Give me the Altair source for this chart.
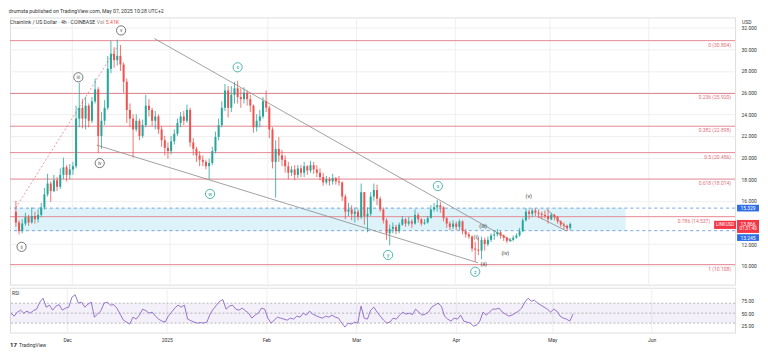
import altair as alt
import pandas as pd

# ---------------- daily OHLC ----------------
first_open = 15.0
close_nov = [14.0, 13.2, 13.9, 14.5, 14.0, 14.6, 14.3, 14.7, 15.4, 16.6, 17.6, 16.9, 17.9, 17.3, 18.4, 19.1, 18.4, 18.9]
high_nov = [16.0, 14.2, 14.3, 14.9, 14.7, 15.4, 15.0, 15.2, 15.8, 17.2, 18.5, 17.8, 18.4, 18.2, 19.0, 20.0, 19.3, 19.4]
low_nov = [13.6, 12.9, 13.0, 13.7, 13.7, 13.9, 13.9, 14.0, 14.5, 15.2, 16.4, 15.9, 16.8, 16.9, 17.1, 18.0, 17.8, 18.0]

close_dec = [19.2, 23.6, 24.6, 23.6, 24.8, 23.4, 25.2, 26.3, 22.0, 23.4, 24.6, 28.2, 29.6, 29.0, 29.4, 28.6, 27.0, 24.4,
             23.6, 22.6, 23.4, 22.0, 23.0, 24.8, 24.4, 23.4, 23.8, 22.6, 21.6, 20.9, 20.6]
high_dec = [19.6, 24.8, 26.9, 25.4, 25.6, 25.0, 25.6, 27.3, 26.5, 24.2, 25.3, 29.4, 30.8, 30.2, 30.9, 30.4, 28.8, 27.3,
            25.0, 24.0, 24.0, 23.6, 23.5, 25.8, 25.4, 24.6, 24.3, 24.0, 22.9, 22.0, 21.4]
low_dec = [18.4, 19.0, 22.8, 22.7, 22.6, 22.8, 23.2, 25.0, 20.4, 20.8, 23.0, 24.4, 27.8, 28.3, 28.5, 28.0, 26.0, 23.2,
           22.8, 20.0, 22.4, 21.6, 21.8, 22.8, 23.8, 22.9, 22.6, 22.2, 21.0, 20.2, 19.9]

close_jan = [21.5, 22.2, 23.2, 23.8, 23.4, 24.4, 21.4, 20.8, 20.2, 19.8, 19.6, 19.2, 19.5, 20.6, 21.9, 23.0, 24.6, 26.2,
             24.6, 25.8, 26.4, 25.6, 25.4, 26.0, 25.4, 24.8, 22.8, 23.4, 23.8, 25.2, 24.6]
high_jan = [22.0, 22.6, 23.6, 24.2, 24.3, 24.9, 24.6, 21.8, 21.0, 20.6, 20.2, 19.8, 19.9, 21.0, 22.4, 23.6, 25.2, 26.8,
            26.6, 26.6, 27.0, 27.1, 26.4, 26.5, 26.2, 25.8, 24.9, 24.0, 24.4, 25.6, 26.2]
low_jan = [20.3, 21.2, 22.0, 22.8, 23.0, 23.2, 21.0, 20.2, 19.6, 19.2, 19.2, 18.9, 18.0, 19.3, 20.4, 21.6, 22.8, 24.3,
           23.7, 24.2, 25.0, 25.0, 24.6, 25.0, 24.8, 24.2, 22.3, 22.4, 22.8, 23.6, 24.2]

close_feb = [22.6, 19.6, 20.8, 20.2, 19.8, 19.2, 18.6, 18.9, 18.4, 19.0, 18.6, 19.2, 18.8, 19.3, 18.9, 18.6, 18.2, 17.7,
             18.0, 17.8, 18.1, 17.8, 17.7, 16.4, 15.0, 15.2, 14.8, 15.0]
high_feb = [24.8, 22.8, 21.6, 21.9, 20.7, 20.2, 19.6, 19.2, 19.3, 19.3, 19.3, 19.6, 19.3, 19.7, 19.6, 19.3, 19.0, 18.6,
            18.3, 18.2, 18.5, 18.2, 18.3, 17.8, 16.6, 15.8, 15.6, 15.4]
low_feb = [21.8, 19.0, 16.3, 19.6, 19.2, 18.6, 18.0, 18.3, 17.9, 18.1, 18.2, 18.2, 18.4, 18.6, 18.5, 18.2, 17.9, 17.4,
           17.5, 17.4, 17.5, 17.5, 17.4, 16.0, 14.3, 14.6, 14.2, 14.0]

close_mar = [14.5, 16.8, 14.6, 14.8, 16.4, 17.0, 16.2, 15.2, 14.2, 13.0, 13.4, 13.6, 13.2, 13.8, 14.3, 13.9, 14.1, 13.9,
             14.7, 14.3, 13.9, 14.0, 14.4, 15.2, 15.4, 15.6, 15.4, 14.4, 13.9, 13.6, 13.9]
high_mar = [15.2, 17.6, 16.8, 15.4, 16.8, 17.6, 17.5, 16.4, 15.4, 14.4, 13.8, 14.0, 13.8, 14.0, 14.6, 14.4, 14.5, 14.3,
            15.2, 14.9, 14.4, 14.3, 14.6, 15.6, 15.8, 16.1, 15.9, 15.5, 14.5, 14.1, 14.2]
low_mar = [14.2, 14.3, 13.8, 13.1, 14.6, 16.0, 15.6, 15.0, 13.9, 12.4, 11.9, 13.0, 12.9, 13.0, 13.7, 13.6, 13.7, 13.5,
           13.8, 14.0, 13.7, 13.8, 13.9, 14.4, 15.0, 15.0, 14.9, 14.1, 13.5, 13.3, 13.4]

close_apr = [13.6, 14.1, 13.2, 12.9, 12.7, 11.6, 11.5, 11.4, 12.4, 12.0, 12.4, 12.8, 12.9, 13.1, 12.8, 12.6, 12.3, 12.4,
             12.6, 12.8, 13.2, 14.2, 15.0, 14.8, 15.1, 14.9, 14.8, 14.7, 14.6, 14.3]
high_apr = [14.1, 14.3, 14.2, 13.4, 13.1, 12.8, 12.2, 12.6, 12.7, 12.6, 12.7, 13.0, 13.3, 13.4, 13.2, 12.9, 12.7, 12.6,
            12.8, 13.0, 13.5, 14.4, 15.3, 15.2, 15.3, 15.3, 15.2, 15.0, 15.1, 15.2]
low_apr = [13.3, 13.3, 12.9, 12.6, 12.5, 11.3, 10.4, 11.0, 10.6, 11.4, 11.8, 12.2, 12.4, 12.7, 12.5, 12.3, 12.1, 12.2,
           12.3, 12.5, 12.7, 13.1, 14.1, 14.3, 14.5, 14.6, 14.4, 14.3, 14.4, 13.9]

close_may = [14.7, 14.5, 14.1, 13.8, 13.7, 13.5, 13.866]
high_may = [14.9, 14.8, 14.6, 14.2, 14.0, 13.8, 14.0]
low_may = [14.2, 14.2, 13.9, 13.6, 13.4, 13.2, 13.3]

# ---------------- RSI (daily readings) ----------------
rsi_nov = [50, 44, 52, 56, 50, 54, 50, 55, 58, 72, 80, 62, 66, 56, 64, 67, 56, 60]
rsi_dec = [62, 82, 87, 70, 72, 62, 68, 72, 42, 48, 55, 70, 72, 66, 67, 60, 48, 36, 32, 28,
           42, 38, 46, 58, 55, 50, 52, 44, 38, 34, 32]
rsi_jan = [44, 52, 60, 66, 62, 66, 38, 35, 32, 30, 31, 30, 32, 48, 58, 66, 74, 77, 58, 64,
           66, 58, 56, 60, 55, 50, 40, 46, 50, 60, 58]
rsi_feb = [40, 30, 36, 42, 40, 38, 36, 40, 38, 44, 42, 50, 46, 54, 48, 45, 42, 40, 44, 42,
           46, 42, 40, 30, 22, 30, 28, 32]
rsi_mar = [30, 64, 40, 38, 56, 62, 52, 44, 36, 30, 32, 40, 38, 46, 52, 48, 50, 47, 58, 52,
           46, 48, 52, 62, 66, 70, 64, 44, 38, 34, 40]
rsi_apr = [38, 46, 34, 32, 30, 24, 26, 34, 52, 46, 52, 58, 58, 60, 52, 48, 44, 46, 50, 54,
           60, 72, 80, 74, 76, 70, 66, 62, 58, 52]
rsi_may = [58, 54, 44, 40, 38, 34, 48]

# ---------------- drawing objects ----------------
fib_ratios = ["0", "0.236", "0.382", "0.5", "0.618", "0.786", "1"]
fib_prices = [30.804, 25.920, 22.898, 20.456, 18.014, 14.537, 10.108]
zone_top = 15.329
zone_bottom = 13.245
zone_start = "2024-11-13T00:00:00Z"
zone_end = "2025-05-25T00:00:00Z"
last_price = 13.866
countdown = "01:31:40"

trend_t1 = ["2024-12-27T05:00:00Z", "2024-12-09T00:00:00Z", "2025-04-27T12:00:00Z", "2025-04-30T00:00:00Z"]
trend_p1 = [31.0, 21.15, 14.52, 15.25]
trend_t2 = ["2025-04-19T05:00:00Z", "2025-04-08T10:00:00Z", "2025-05-06T05:00:00Z", "2025-05-06T19:00:00Z"]
trend_p2 = [12.27, 10.28, 13.23, 13.41]
dash_t = ["2024-11-13T10:00:00Z", "2024-12-15T19:00:00Z"]
dash_p = [15.35, 30.37]

circ_labels = ["ii", "iii", "iv", "v", "w", "x", "y", "x", "z"]
circ_kind = ["gray", "gray", "gray", "gray", "green", "green", "green", "green", "green"]
circ_t = ["2024-11-15T07:00:00Z", "2024-12-03T05:00:00Z", "2024-12-09T23:00:00Z", "2024-12-16T17:00:00Z",
          "2025-01-13T19:00:00Z", "2025-01-22T12:00:00Z", "2025-03-11T00:00:00Z", "2025-03-26T17:00:00Z",
          "2025-04-07T12:00:00Z"]
circ_p = [11.75, 27.42, 19.49, 31.75, 16.64, 28.34, 11.0, 17.37, 9.45]

plain_labels = ["(i)", "(iii)", "(ii)", "(iv)", "(v)"]
plain_t = ["2025-04-07T19:00:00Z", "2025-04-10T00:00:00Z", "2025-04-10T05:00:00Z", "2025-04-17T00:00:00Z",
           "2025-04-24T10:00:00Z"]
plain_p = [12.67, 13.69, 10.18, 11.2, 16.45]

price_ticks = [10, 12, 16, 18, 20, 22, 24, 26, 28, 30, 32]
rsi_ticks = [25, 50, 75]

# ---------------- tables ----------------
closes = close_nov + close_dec + close_jan + close_feb + close_mar + close_apr + close_may
highs = high_nov + high_dec + high_jan + high_feb + high_mar + high_apr + high_may
lows = low_nov + low_dec + low_jan + low_feb + low_mar + low_apr + low_may
rsi_vals = rsi_nov + rsi_dec + rsi_jan + rsi_feb + rsi_mar + rsi_apr + rsi_may
days = pd.date_range("2024-11-13", periods=len(closes), freq="D")
tstr = [d.strftime("%Y-%m-%dT12:00:00Z") for d in days]
opens = [first_open] + closes[:-1]
candles = pd.DataFrame({"t": tstr, "open": opens, "high": highs, "low": lows, "close": closes})
rsi_df = pd.DataFrame({"t": tstr, "rsi": rsi_vals})

FONT = "Roboto"
GREEN = "#26a69a"
RED = "#ef5350"
TAGRED = "#f23645"
BLUE = "#2f6de8"
FIBC = "#e58a95"
W, HP, HR = 727, 268, 45

# fib label x: right edge, except where the LINKUSD tag would cover it
fib_df = pd.DataFrame({
    "p": fib_prices,
    "label": [f"{r} ({p:.3f})" for r, p in zip(fib_ratios, fib_prices)],
    "lx": [W - 25 if abs(p - last_price) < 1.0 else W - 4 for p in fib_prices],
})
zone_df = pd.DataFrame({"x1": [zone_start], "x2": [zone_end], "lo": [zone_bottom], "hi": [zone_top]})
zone_lines_df = pd.DataFrame({"p": [zone_top, zone_bottom]})
trend_df = pd.DataFrame({"x1": trend_t1, "x2": trend_t2, "y1": trend_p1, "y2": trend_p2})
dash_df = pd.DataFrame({"x1": [dash_t[0]], "x2": [dash_t[1]], "y1": [dash_p[0]], "y2": [dash_p[1]]})
circ_df = pd.DataFrame({"t": circ_t, "p": circ_p, "label": circ_labels, "kind": circ_kind})
plain_df = pd.DataFrame({"t": plain_t, "p": plain_p, "label": plain_labels})
one = pd.DataFrame({"a": [0]})

xscale = alt.Scale(type="utc", domain=[alt.DateTime(year=2024, month=11, date=13, hours=5, utc=True),
                                       alt.DateTime(year=2025, month=6, date=26, hours=23, utc=True)])
month_ticks = [alt.DateTime(year=y, month=m, date=1, utc=True)
               for y, m in [(2024, 12), (2025, 1), (2025, 2), (2025, 3), (2025, 4), (2025, 5), (2025, 6)]]
xaxis_hidden = alt.Axis(values=month_ticks, labels=False, ticks=False, domain=False, grid=True,
                        gridColor="#efefef", title=None)
xaxis_rsi = alt.Axis(values=month_ticks, ticks=False, domain=False, grid=True, gridColor="#efefef", title=None,
                     labelFontSize=5, labelColor="#333", labelPadding=5, labelFont=FONT,
                     labelExpr="utcFormat(datum.value, '%m') == '01' ? utcFormat(datum.value, '%Y') : utcFormat(datum.value, '%b')")
yscale = alt.Scale(domain=[8.25, 32.95], nice=False, zero=False)
yaxis = alt.Axis(orient="right", values=price_ticks, format=".3f", grid=True, gridColor="#efefef", ticks=False,
                 domain=False, labelFontSize=5, labelColor="#333", labelPadding=6, labelFont=FONT, title=None)


def PX(f):
    return alt.X(f, type="temporal", scale=xscale, axis=xaxis_hidden)


def PY(f):
    return alt.Y(f, type="quantitative", scale=yscale, axis=yaxis)


candle_color = alt.when(alt.datum.close >= alt.datum.open).then(alt.value(GREEN)).otherwise(alt.value(RED))

zone = alt.Chart(zone_df).mark_rect(color="#d9f2f8", opacity=0.9).encode(
    x=PX("x1"), x2=alt.X2("x2"), y=PY("lo"), y2=alt.Y2("hi"))
zone_lines = alt.Chart(zone_lines_df).mark_rule(color="#5b8fd9", strokeDash=[3, 3], strokeWidth=0.8).encode(y=PY("p"))
fib = alt.Chart(fib_df).mark_rule(color=FIBC, strokeWidth=1).encode(y=PY("p"))
fib_text = alt.Chart(fib_df).mark_text(align="right", baseline="top", dy=2, fontSize=5, color="#e0707c",
                                       font=FONT).encode(x=alt.X("lx:Q", scale=None), y=PY("p"), text="label")
trend = alt.Chart(trend_df).mark_rule(color="#8a8a8a", strokeWidth=0.8).encode(
    x=PX("x1"), x2=alt.X2("x2"), y=PY("y1"), y2=alt.Y2("y2"))
dash = alt.Chart(dash_df).mark_rule(color="#e57f8a", strokeWidth=0.8, strokeDash=[2, 2]).encode(
    x=PX("x1"), x2=alt.X2("x2"), y=PY("y1"), y2=alt.Y2("y2"))
wicks = alt.Chart(candles).mark_rule(strokeWidth=0.8).encode(x=PX("t"), y=PY("low"), y2=alt.Y2("high"),
                                                              color=candle_color)
bodies = alt.Chart(candles).mark_bar(size=2.0).encode(x=PX("t"), y=PY("open"), y2=alt.Y2("close"),
                                                      color=candle_color)

circ_col = alt.when(alt.datum.kind == "green").then(alt.value(GREEN)).otherwise(alt.value("#555555"))
circles = alt.Chart(circ_df).mark_point(shape="circle", size=85, strokeWidth=0.8, opacity=1).encode(
    x=PX("t"), y=PY("p"), fill=alt.value("white"), stroke=circ_col)
circ_text = alt.Chart(circ_df).mark_text(fontSize=5, font=FONT, baseline="middle").encode(
    x=PX("t"), y=PY("p"), text="label", color=circ_col)
plain_text = alt.Chart(plain_df).mark_text(fontSize=5.5, font=FONT, color="#333", baseline="middle").encode(
    x=PX("t"), y=PY("p"), text="label")

# right-hand price tags
tag_rects = pd.DataFrame({
    "x1": [729, 729, 729, 706],
    "x2": [751, 751, 751, 728],
    "lo": [zone_top - 0.31, last_price - 0.83, zone_bottom - 0.95, last_price - 0.46],
    "hi": [zone_top + 0.31, last_price + 0.37, zone_bottom - 0.33, last_price + 0.29],
    "c": [BLUE, TAGRED, BLUE, TAGRED],
})
tags = alt.Chart(tag_rects).mark_rect().encode(
    x=alt.X("x1:Q", scale=None), x2="x2:Q", y=PY("lo"), y2=alt.Y2("hi"),
    color=alt.Color("c:N", scale=None))
tag_text_df = pd.DataFrame({
    "x": [740, 740, 740, 740, 717],
    "p": [zone_top, last_price, last_price - 0.46, zone_bottom - 0.64, last_price - 0.08],
    "label": [f"{zone_top:.3f}", f"{last_price:.3f}", countdown, f"{zone_bottom:.3f}", "LINKUSD"],
    "fs": [5, 5, 4.5, 5, 4.5],
})
tag_text = alt.Chart(tag_text_df).mark_text(color="white", font=FONT, baseline="middle").encode(
    x=alt.X("x:Q", scale=None), y=PY("p"), text="label", size=alt.Size("fs:Q", scale=None))

hdr1 = alt.Chart(one).mark_text(align="left", baseline="top", fontSize=5.2, font=FONT, color="#333").encode(
    x=alt.value(0), y=alt.value(3), text=alt.value("Chainlink / US Dollar · 4h · COINBASE"))
hdr2 = alt.Chart(one).mark_text(align="left", baseline="top", fontSize=5.2, font=FONT, color="#888").encode(
    x=alt.value(87), y=alt.value(3), text=alt.value("Vol"))
hdr3 = alt.Chart(one).mark_text(align="left", baseline="top", fontSize=5.2, font=FONT, color=RED).encode(
    x=alt.value(96), y=alt.value(3), text=alt.value("5.41K"))
usd = alt.Chart(one).mark_text(align="left", baseline="top", fontSize=5, font=FONT, color="#333").encode(
    x=alt.value(W + 7), y=alt.value(3), text=alt.value("USD"))

price = alt.layer(zone, zone_lines, fib, fib_text, trend, dash, wicks, bodies, circles, circ_text, plain_text,
                  tags, tag_text, hdr1, hdr2, hdr3, usd).properties(width=W, height=HP)

# ---------------- RSI panel ----------------
rscale = alt.Scale(domain=[11, 101], nice=False, zero=False)
raxis = alt.Axis(orient="right", values=rsi_ticks, format=".2f", grid=False, ticks=False, domain=False,
                 labelFontSize=5, labelColor="#333", labelPadding=6, labelFont=FONT, title=None)
band = alt.Chart(pd.DataFrame({"lo": [30], "hi": [70]})).mark_rect(color="#7e57c2", opacity=0.09).encode(
    y=alt.Y("lo:Q", scale=rscale, axis=raxis), y2="hi:Q")
rlines = alt.Chart(pd.DataFrame({"v": [30, 50, 70]})).mark_rule(color="#9a9a9a", strokeDash=[2, 2],
                                                                 strokeWidth=0.7).encode(
    y=alt.Y("v:Q", scale=rscale, axis=raxis))
rline = alt.Chart(rsi_df).mark_line(color="#7e57c2", strokeWidth=0.8).encode(
    x=alt.X("t:T", scale=xscale, axis=xaxis_rsi), y=alt.Y("rsi:Q", scale=rscale, axis=raxis))
rsi_lbl = alt.Chart(one).mark_text(align="left", baseline="top", fontSize=5, font=FONT, color="#333").encode(
    x=alt.value(2), y=alt.value(3), text=alt.value("RSI"))
logo = alt.Chart(one).mark_text(align="left", baseline="middle", fontSize=6, font=FONT, fontWeight="bold",
                                color="#131722").encode(x=alt.value(0), y=alt.value(57), text=alt.value("17"))
foot = alt.Chart(one).mark_text(align="left", baseline="middle", fontSize=5, font=FONT, color="#333").encode(
    x=alt.value(9), y=alt.value(57), text=alt.value("TradingView"))

rsi_chart = alt.layer(band, rlines, rline, rsi_lbl, logo, foot).properties(width=W, height=HR)

chart = alt.vconcat(price, rsi_chart, spacing=1).properties(
    title=alt.TitleParams("drumsta published on TradingView.com, May 07, 2025 10:28 UTC+2", anchor="start",
                          fontSize=5.2, fontWeight="normal", color="#333", offset=3, font=FONT),
    padding=0, background="white",
).configure_view(stroke="#e3e3e3").configure(font=FONT)

chart.save("out.html", embed_options={"renderer": "svg", "actions": False})
